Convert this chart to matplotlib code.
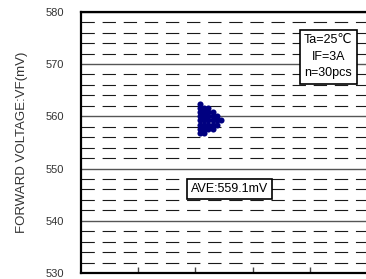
import numpy as np
import matplotlib
matplotlib.use('Agg')
import matplotlib.pyplot as plt

plt.rcParams['font.family'] = ['Liberation Sans', 'DejaVu Sans']

# measured forward voltage, one value per piece (mV)
vf_values = [562.4,
             561.6, 561.6, 561.6,
             560.8, 560.8, 560.8, 560.8,
             560.0, 560.0, 560.0, 560.0, 560.0,
             559.2, 559.2, 559.2, 559.2, 559.2, 559.2,
             558.4, 558.4, 558.4, 558.4, 558.4,
             557.6, 557.6, 557.6, 557.6,
             556.8, 556.8]
y_ticks = [530, 540, 550, 560, 570, 580]
cond_text = 'Ta=25\u2103\nIF=3A\nn=30pcs'
ave_text = 'AVE:559.1mV'

# stack dots sideways when values repeat
x_start = 2.08
x_step = 0.074
xs, ys = [], []
seen = {}
for v in vf_values:
    n = seen.get(v, 0)
    seen[v] = n + 1
    xs.append(x_start + n * x_step)
    ys.append(v)

fig = plt.figure(figsize=(3.66, 2.79), dpi=100)
ax = fig.add_axes([0.221, 0.021, 0.782, 0.937])

ax.set_xlim(0, 5)
ax.set_ylim(530, 580)
ax.set_yticks(y_ticks)
ax.set_yticks(np.arange(532, 580, 2), minor=True)
ax.set_xticks([1, 2, 3, 4])
ax.set_xticklabels([])

ax.grid(True, which='minor', axis='y', color='#1a1a1a', linestyle=(0, (12, 7)), linewidth=0.8)
ax.grid(True, which='major', axis='y', color='#555555', linestyle='-', linewidth=1.0)
ax.set_axisbelow(True)

ax.tick_params(axis='y', which='both', length=0, labelsize=8, pad=12, labelcolor='#333333')
ax.tick_params(axis='x', direction='in', length=4, width=1, color='#444444')

for s in ['left', 'bottom', 'top']:
    ax.spines[s].set_linewidth(1.6)
ax.spines['right'].set_visible(False)

ax.plot(xs, ys, 'o', color='#000080', markersize=4.4, markeredgewidth=0, zorder=3)

ax.set_ylabel('FORWARD VOLTAGE:VF(mV)', fontsize=9.5, color='#333333', labelpad=13)

ax.text(4.32, 571.4, cond_text, fontsize=9, ha='center', va='center', linespacing=1.5,
        bbox=dict(boxstyle='square,pad=0.35', facecolor='white', edgecolor='black', linewidth=1.2),
        zorder=4)
ax.text(2.59, 546.1, ave_text, fontsize=9, ha='center', va='center',
        bbox=dict(boxstyle='square,pad=0.3', facecolor='white', edgecolor='black', linewidth=1.2),
        zorder=4)

fig.savefig('out.png', dpi=100)
